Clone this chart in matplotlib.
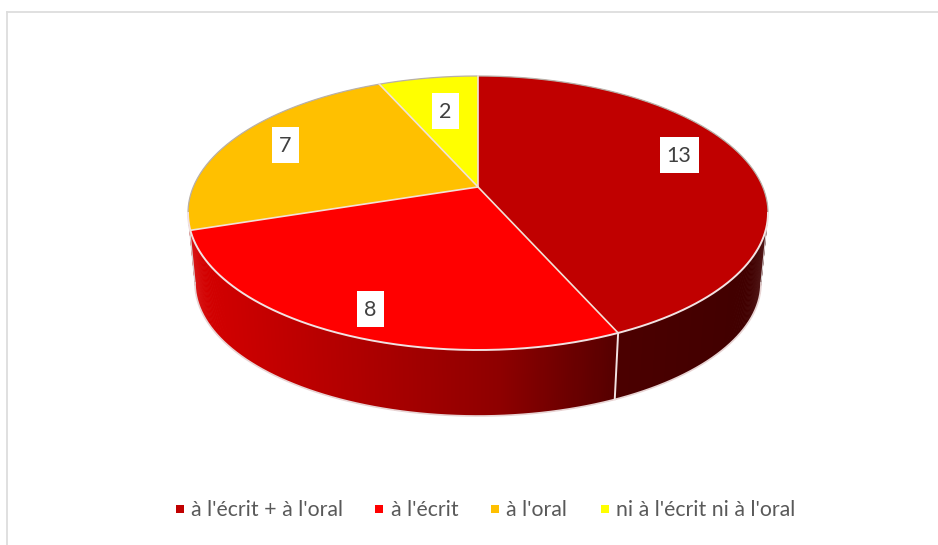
import numpy as np
import matplotlib
matplotlib.use("Agg")
import matplotlib.pyplot as plt
from matplotlib.patches import Rectangle

# Data
categories = ["à l'écrit + à l'oral", "à l'écrit", "à l'oral", "ni à l'écrit ni à l'oral"]
values = [13, 8, 7, 2]
colors = ["#C00000", "#FF0000", "#FFC000", "#FFFF00"]

# Layout in image pixels
W, H = 938, 545
cx, cy, rx, ry = 478, 213, 290, 137      # top ellipse
bcx, bcy, brx, bry = 478, 283, 283, 133  # bottom ellipse
persp = 0.19                             # how far the pie centre is moved back

label_pos = [(679, 155), (370, 309), (285, 145), (445, 111)]
label_w = [39, 27, 27, 27]
legend_sq = [176, 375, 491, 601]
legend_txt = [191, 391, 506, 616]
legend_y = 509

plt.rcParams["font.family"] = ["Lato", "DejaVu Sans"]


# angle in degrees, clockwise from the top, to normalised ellipse coordinates
def project(t):
    t = np.radians(t)
    u, v = np.sin(t), np.cos(t)
    d = 1 + persp * v
    return u * np.sqrt(1 - persp ** 2) / d, (v + persp) / d


def top_pt(t):
    X, Y = project(t)
    return cx + rx * X, cy - ry * Y


def bottom_pt(t):
    X, Y = project(t)
    return bcx + brx * X, bcy - bry * Y


def wall_color(x, i):
    if i == 0:
        r = np.interp(x, [612, 760], [0x4C, 0x40])
    else:
        r = np.interp(x, [190, 370, 500, 612], [0xD6, 0xAC, 0x8E, 0x58])
    return (r / 255, 0, 0)


fig = plt.figure(figsize=(W / 100, H / 100), dpi=100)
ax = fig.add_axes([0, 0, 1, 1])
ax.set_xlim(0, W)
ax.set_ylim(H, 0)
ax.axis("off")

# chart frame
ax.plot([7, 7], [H, 12], color="#DDDDDD", lw=1.3, zorder=1)
ax.plot([7, W], [12, 12], color="#DDDDDD", lw=1.3, zorder=1)

edges = np.cumsum([0] + values) / sum(values) * 360

# the widest points of the ellipses are not at 90/270 because of the perspective
t_right = np.degrees(np.arccos(-persp))
t_left = 360 - t_right

# side walls: first slice, then the second one running on to the left silhouette
wall_ranges = [(t_right, edges[1]), (edges[1], t_left)]
for i, (a0, a1) in enumerate(wall_ranges):
    ts = np.linspace(a0, a1, int(a1 - a0) * 3)
    for k in range(len(ts) - 1):
        # each quad overlaps the next one, so no seams show
        t0, t1 = ts[k], ts[min(k + 2, len(ts) - 1)]
        xa, ya = top_pt(np.array([t0, t1]))
        xb, yb = bottom_pt(np.array([t1, t0]))
        c = wall_color((xa[0] + xa[1]) / 2, i)
        ax.fill(np.r_[xa, xb], np.r_[ya, yb], color=c, lw=0, zorder=2)

# pale outline round the walls
outline = np.linspace(t_right, t_left, 200)
bx, by = bottom_pt(outline)
ax.plot(bx, by, color="#E8D4D4", lw=1.2, zorder=3)
ax.plot([cx - rx, bcx - brx], [cy, bcy], color="#D8D0D0", lw=1.0, zorder=3)
ax.plot([cx + rx, bcx + brx], [cy, bcy], color="#D8D0D0", lw=0.8, zorder=3)

# top slices
apex = cx, cy - ry * persp
for i in range(len(values)):
    ts = np.linspace(edges[i], edges[i + 1], 200)
    x, y = top_pt(ts)
    ax.fill(np.r_[apex[0], x], np.r_[apex[1], y], color=colors[i], lw=0, zorder=4)

# back rim is thin and grey, front rim and slice borders are pale
ts = np.linspace(t_left - 360, t_right, 300)
x, y = top_pt(ts)
ax.plot(x, y, color="#B8B0A8", lw=0.9, zorder=5)
ts = np.linspace(t_right, t_left, 300)
x, y = top_pt(ts)
ax.plot(x, y, color="#F2E2E2", lw=1.4, zorder=5)
for e in edges[:-1]:
    x, y = top_pt(e)
    ax.plot([apex[0], x], [apex[1], y], color="#F2E2D8", lw=1.2, zorder=5)

# wall seam under the first slice border
xa, ya = top_pt(edges[1])
xb, yb = bottom_pt(edges[1])
ax.plot([xa, xb], [ya, yb], color="#F2E2E2", lw=1.4, zorder=5)

# value labels
for v, (lx, ly), w in zip(values, label_pos, label_w):
    ax.add_patch(Rectangle((lx - w / 2, ly - 18), w, 36, color="white", lw=0, zorder=6))
    ax.text(lx, ly + 1.5, str(v), ha="center", va="center", fontsize=15.5, color="#404040", zorder=7)

# legend
for name, col, sx, tx in zip(categories, colors, legend_sq, legend_txt):
    ax.add_patch(Rectangle((sx, legend_y - 4), 8, 8, color=col, lw=0, zorder=6))
    ax.text(tx, legend_y + 1, name, ha="left", va="center", fontsize=15.3, color="#595959", zorder=7)

fig.savefig("out.png", dpi=100)
